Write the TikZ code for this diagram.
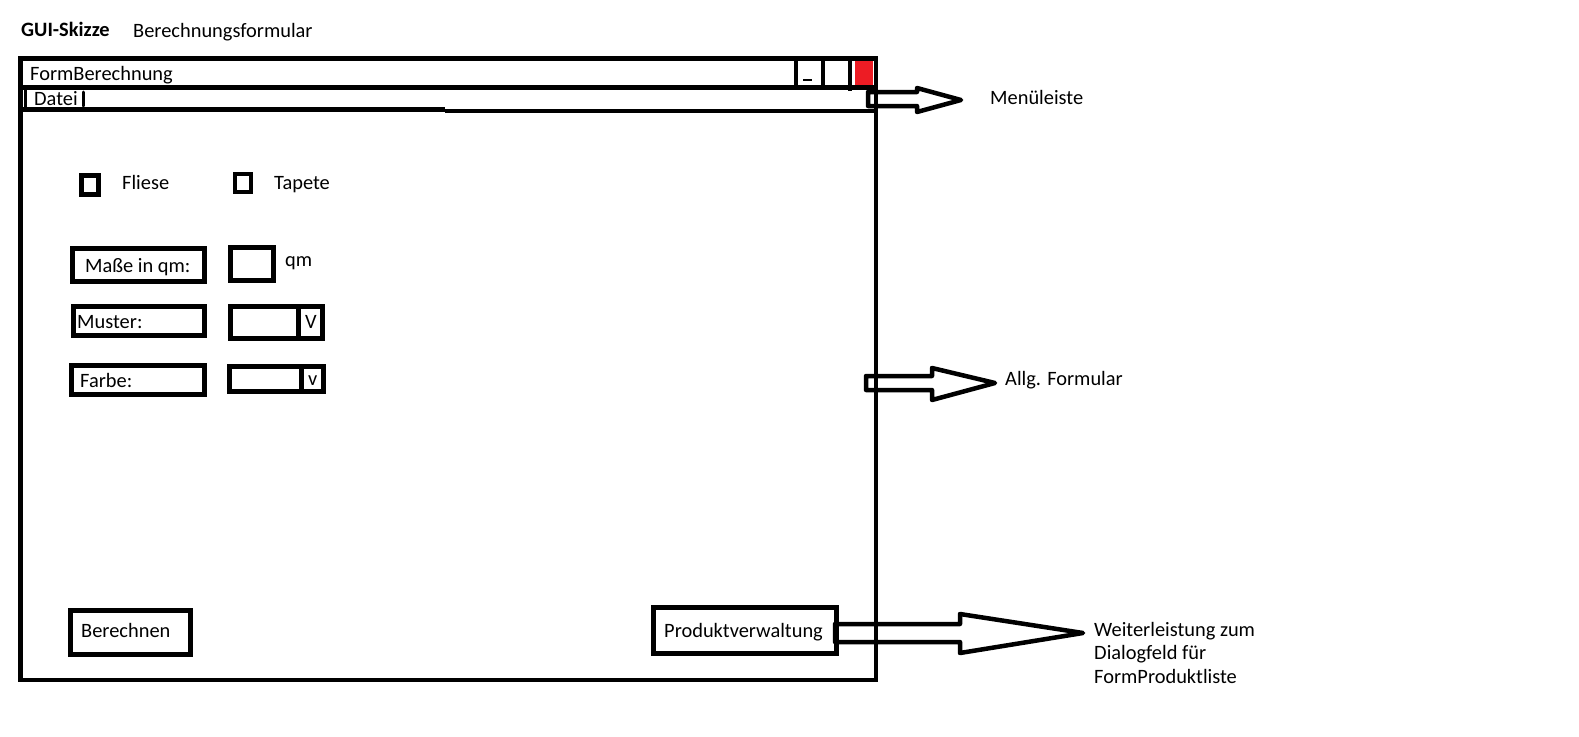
\documentclass[tikz,border=0pt]{standalone}
\usepackage{fontspec}
\setmainfont{Carlito}
\definecolor{paintred}{RGB}{237,28,36}
\begin{document}
\begin{tikzpicture}[x=1pt,y=-1pt,
  wline/.style={line width=4.5pt},
  box/.style={draw, line width=4.5pt, rectangle, inner sep=0pt},
  lbl/.style={anchor=base west, inner sep=0pt, font=\fontsize{20.4}{24}\selectfont},
  blockarrow/.style={draw, line width=4.5pt, line join=round}]
\useasboundingbox[fill=white] (0,0) rectangle (1579,736);
% headings
\node[lbl, font=\fontsize{20.4}{24}\selectfont\bfseries] (gui) at (21,36) {GUI-Skizze};
\node[lbl] (berf) at (133,37) {Berechnungsformular};
% window
\node[box, minimum width=855.5pt, minimum height=621.5pt] (win) at (448.25,369.25) {};
\draw[wline] (20.5,87.5) -- (876,87.5);
\draw[wline] (20.5,109.5) -- (445,109.5);
\draw[wline] (445,111) -- (876,111);
\node[lbl] (title) at (30,80) {FormBerechnung};
% title buttons
\draw[line width=4pt] (796,58) -- (796,87);
\draw[line width=4pt] (823,58) -- (823,87);
\draw[line width=4pt] (850,58) -- (850,91);
\draw[line width=1.5pt] (803,80) -- (812,80);
\fill[paintred] (855,61) rectangle (873,85);
% menu bar
\draw[line width=3pt] (25.5,90) -- (25.5,107);
\draw[line width=3pt, line cap=round] (83.5,92) -- (83.5,106);
\node[lbl] (datei) at (34,105) {Datei};
% checkboxes
\node[box, minimum width=17pt, minimum height=19pt] (cbf) at (90,185) {};
\node[lbl] (fliese) at (122,189) {Fliese};
\node[box, minimum width=16pt, minimum height=18pt] (cbt) at (243,183) {};
\node[lbl] (tapete) at (274,189) {Tapete};
% fields
\node[box, minimum width=132pt, minimum height=33pt] (masse) at (138.5,265) {};
\node[lbl] (massetxt) at (85,272) {Maße in qm:};
\node[box, minimum width=43pt, minimum height=33pt] (qmbox) at (252,264) {};
\node[lbl] (qm) at (285,266) {qm};
\node[box, minimum width=131pt, minimum height=29pt] (muster) at (139,321) {};
\node[lbl] (mustertxt) at (77,328) {Muster:};
\node[box, minimum width=92pt, minimum height=32pt] (mcombo) at (276.5,322.5) {};
\draw[wline] (298.5,306.5) -- (298.5,338.5);
\node[lbl] (mv) at (305,328) {V};
\node[box, minimum width=133pt, minimum height=29pt] (farbe) at (138,380) {};
\node[lbl] (farbetxt) at (80,387) {Farbe:};
\node[box, minimum width=94pt, minimum height=25pt] (fcombo) at (276.5,379) {};
\draw[wline] (301.5,366.5) -- (301.5,391.5);
\node[lbl] (fv) at (308,385) {v};
% buttons
\node[box, minimum width=120pt, minimum height=44pt] (berechnen) at (130.5,632.5) {};
\node[lbl] (bertxt) at (81,637) {Berechnen};
\node[box, minimum width=183pt, minimum height=46pt] (produkt) at (745,630.5) {};
\node[lbl] (prodtxt) at (664,637) {Produktverwaltung};
% block arrows
\draw[blockarrow] (868,92) -- (917,92) -- (917,88) -- (961,100) -- (917,112) -- (917,106) -- (868,106) -- cycle;
\node[lbl] (menu) at (990,104) {Menüleiste};
\draw[blockarrow] (866,376) -- (932,376) -- (932,368) -- (995,383) -- (932,400) -- (932,390) -- (866,390) -- cycle;
\node[lbl] (allg) at (1005,385) {Allg. Formular};
\draw[blockarrow] (835,624) -- (960,624) -- (960,614) -- (1083,633) -- (960,653) -- (960,642) -- (835,642) -- cycle;
\node[lbl, align=left, anchor=north west, font=\fontsize{20.4}{23.5}\selectfont] (weiter) at (1094,622) {Weiterleistung zum\\Dialogfeld für\\FormProduktliste};
\end{tikzpicture}
\end{document}
